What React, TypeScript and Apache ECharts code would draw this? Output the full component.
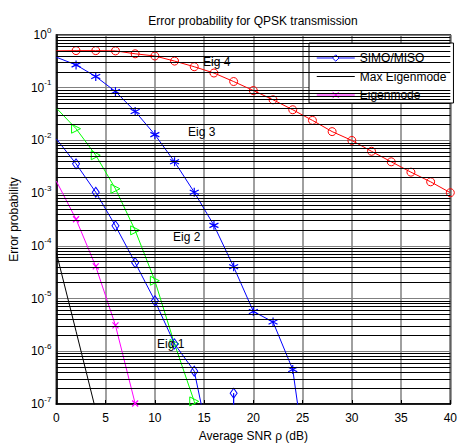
import React, { useEffect, useRef } from "react";
import * as echarts from "echarts";

// ---- data ----
const eig4X = [0, 2, 4, 6, 8, 10, 12, 14, 16, 18, 20, 22, 24, 26, 28, 30, 32, 34, 36, 38, 40];
const eig4Y = [0.5, 0.505, 0.505, 0.5, 0.44, 0.4, 0.32, 0.25, 0.19, 0.131, 0.0885, 0.059, 0.0382, 0.024, 0.0147, 0.01, 0.00622, 0.00393, 0.0025, 0.00164, 0.00102];

const eig3X = [0, 2, 4, 6, 8, 10, 12, 14, 16, 18, 20, 22, 24, 26];
const eig3Y = [0.379, 0.271, 0.163, 0.0848, 0.0355, 0.0129, 0.00393, 0.00104, 2.45e-4, 4.0e-5, 5.7e-6, 3.6e-6, 4.5e-7, 1e-9];

const eig2X = [0, 2, 4, 6, 8, 10, 12, 14, 16];
const eig2Y = [0.0411, 0.0167, 0.00524, 0.00121, 1.97e-4, 2.18e-5, 1.38e-6, 1.12e-7, 1e-9];

const simoX = [0, 2, 4, 6, 8, 10, 12, 14, 16, 17, 18, 19];
const simoY = [0.0107, 0.0036, 0.00104, 2.4e-4, 4.8e-5, 9.1e-6, 1.38e-6, 4.2e-7, 7e-9, 1e-30, 1.6e-7, 1e-30];

const maxEigX = [0, 2, 4];
const maxEigY = [7.4e-5, 2.4e-6, 7.6e-8];

const eigenX = [0, 2, 4, 6, 8];
const eigenY = [0.00169, 3.2e-4, 4.07e-5, 3.1e-6, 1.02e-7];

const legendNames = ["SIMO/MISO", "Max Eigenmode", "Eigenmode"];
const xTicks = [0, 5, 10, 15, 20, 25, 30, 35, 40];
const decadeExps = [-7, -6, -5, -4, -3, -2, -1];
const minorMultipliers = [2, 3, 4, 5, 6, 7, 8, 9];

const annotations = [
  { text: "Eig 4", x: 203, y: 62 },
  { text: "Eig 3", x: 188, y: 132 },
  { text: "Eig 2", x: 173, y: 237 },
  { text: "Eig 1", x: 157, y: 344 },
];

const FONT = "'Liberation Sans', Arial, sans-serif";
const Y_MIN = 1e-7;
const BLUE = "#0000ff";
const MAGENTA = "#ff00ff";

const starPath = "path://M0,-5L0,5M-4.33,-2.5L4.33,2.5M-4.33,2.5L4.33,-2.5";
const crossPath = "path://M-1,-1L1,1M-1,1L1,-1";

function build(xs: number[], ys: number[]) {
  return xs.map((x, i) => {
    const y = ys[i];
    const hide = i === 0 || y < Y_MIN || x % 2 !== 0;
    return hide ? { value: [x, y], symbol: "none" } : { value: [x, y] };
  });
}

export default function App() {
  const ref = useRef<HTMLDivElement>(null);
  useEffect(() => {
    if (!ref.current) return;
    const chart = echarts.init(ref.current, null, { renderer: "svg" });
    const minorVals: number[] = [];
    decadeExps.forEach((e) => minorMultipliers.forEach((m) => minorVals.push(m * Math.pow(10, e))));

    const legendStyles: Record<string, any> = {
      "SIMO/MISO": { itemStyle: { color: "#ffffff", borderColor: BLUE, borderWidth: 1 }, lineStyle: { color: "#5c5cff", width: 1.5 } },
      "Max Eigenmode": { itemStyle: { color: "rgba(0,0,0,0)", borderColor: "rgba(0,0,0,0)", borderWidth: 0 }, lineStyle: { color: "#000", width: 1 } },
      Eigenmode: { itemStyle: { color: MAGENTA, borderColor: MAGENTA, borderWidth: 1 }, lineStyle: { color: "#ff55ff", width: 1.5 } },
    };

    const option: any = {
      animation: false,
      backgroundColor: "#fff",
      textStyle: { fontFamily: FONT },
      grid: { left: 52, right: 5, top: 35, bottom: 42, show: true, borderColor: "#000", borderWidth: 1.5, backgroundColor: "transparent" },
      legend: {
        data: legendNames.map((n) => ({ name: n, ...legendStyles[n] })),
        orient: "vertical",
        left: 309,
        top: 43,
        padding: [9, 7, 2, 7],
        itemGap: 6.5,
        itemWidth: 38,
        itemHeight: 8,
        backgroundColor: "#fff",
        borderColor: "#000",
        borderWidth: 1,
        borderRadius: 0,
        textStyle: { fontSize: 12, color: "#000", fontFamily: FONT },
      },
      xAxis: {
        type: "value",
        min: 0,
        max: 40,
        interval: 5,
        name: "Average SNR ρ (dB)",
        nameLocation: "middle",
        nameGap: 26,
        nameTextStyle: { fontSize: 12, color: "#000", fontFamily: FONT },
        axisLine: { lineStyle: { color: "#000", width: 1.5 } },
        axisTick: { inside: true, length: 4, lineStyle: { color: "#000" } },
        axisLabel: { fontSize: 12, color: "#000", margin: 8, fontFamily: FONT, formatter: (v: number) => (xTicks.includes(v) ? String(v) : "") },
        splitLine: { show: true, lineStyle: { color: "#808080", width: 1.5 } },
      },
      yAxis: {
        type: "log",
        logBase: 10,
        min: Y_MIN,
        max: 1,
        splitNumber: 7,
        name: "Error probability",
        nameLocation: "middle",
        nameGap: 30,
        nameTextStyle: { fontSize: 12, color: "#000", fontFamily: FONT },
        axisLine: { lineStyle: { color: "#000", width: 1.5 } },
        axisTick: { show: false },
        axisLabel: {
          margin: 5,
          formatter: (v: number) => `{b|10}{s|${Math.round(Math.log10(v))}}`,
          rich: {
            b: { fontSize: 12, color: "#000", fontFamily: FONT, lineHeight: 18 },
            s: { fontSize: 8, color: "#000", fontFamily: FONT, verticalAlign: "top" },
          },
        },
        splitLine: { show: true, lineStyle: { color: "#808080", width: 1 } },
        minorTick: { show: false },
        minorSplitLine: { show: false },
      },
      graphic: [
        {
          type: "text",
          x: 253,
          y: 21,
          style: { text: "Error probability for QPSK transmission", fontSize: 12, fill: "#000", fontFamily: FONT, align: "center", verticalAlign: "middle" },
        },
        ...annotations.map((a) => ({
          type: "text",
          x: a.x,
          y: a.y,
          z: 100,
          style: { text: a.text, fontSize: 12, fill: "#000", fontFamily: FONT, align: "left", verticalAlign: "middle" },
        })),
      ],
      series: [
        {
          name: "grid-minor",
          type: "line",
          data: [],
          silent: true,
          z: 1,
          markLine: {
            silent: true,
            animation: false,
            precision: 12,
            symbol: ["none", "none"],
            label: { show: false },
            lineStyle: { color: "#000", width: 1, type: "solid" },
            emphasis: { disabled: true },
            data: minorVals.map((v) => ({ yAxis: v })),
          },
        },
        {
          name: "Eig 4",
          type: "line",
          z: 3,
          data: build(eig4X, eig4Y),
          symbol: "circle",
          symbolSize: 8,
          itemStyle: { color: "rgba(0,0,0,0)", borderColor: "#ff0000", borderWidth: 1 },
          lineStyle: { color: "#ff0000", width: 1 },
        },
        {
          name: "Eig 3",
          type: "line",
          z: 3,
          data: build(eig3X, eig3Y),
          symbol: starPath,
          symbolSize: 9,
          itemStyle: { color: BLUE, borderColor: BLUE, borderWidth: 1.2 },
          lineStyle: { color: BLUE, width: 1 },
        },
        {
          name: "Eig 2",
          type: "line",
          z: 3,
          data: build(eig2X, eig2Y),
          symbol: "triangle",
          symbolRotate: -90,
          symbolSize: 9,
          itemStyle: { color: "rgba(0,0,0,0)", borderColor: "#00ff00", borderWidth: 1 },
          lineStyle: { color: "#00ff00", width: 1 },
        },
        {
          name: "SIMO/MISO",
          type: "line",
          z: 3,
          data: build(simoX, simoY),
          symbol: "diamond",
          symbolSize: [7, 10],
          itemStyle: { color: "rgba(0,0,0,0)", borderColor: BLUE, borderWidth: 1 },
          lineStyle: { color: BLUE, width: 1 },
        },
        {
          name: "Max Eigenmode",
          type: "line",
          z: 3,
          data: build(maxEigX, maxEigY),
          symbol: "none",
          itemStyle: { color: "rgba(0,0,0,0)", borderColor: "rgba(0,0,0,0)", borderWidth: 0 },
          lineStyle: { color: "#000", width: 1 },
        },
        {
          name: "Eigenmode",
          type: "line",
          z: 3,
          data: build(eigenX, eigenY),
          symbol: crossPath,
          symbolSize: 6,
          itemStyle: { color: MAGENTA, borderColor: MAGENTA, borderWidth: 1.2 },
          lineStyle: { color: MAGENTA, width: 1 },
        },
      ],
    };
    chart.setOption(option);
    return () => chart.dispose();
  }, []);
  return <div ref={ref} style={{ position: "fixed", left: 0, top: 0, width: 460, height: 447 }} />;
}
